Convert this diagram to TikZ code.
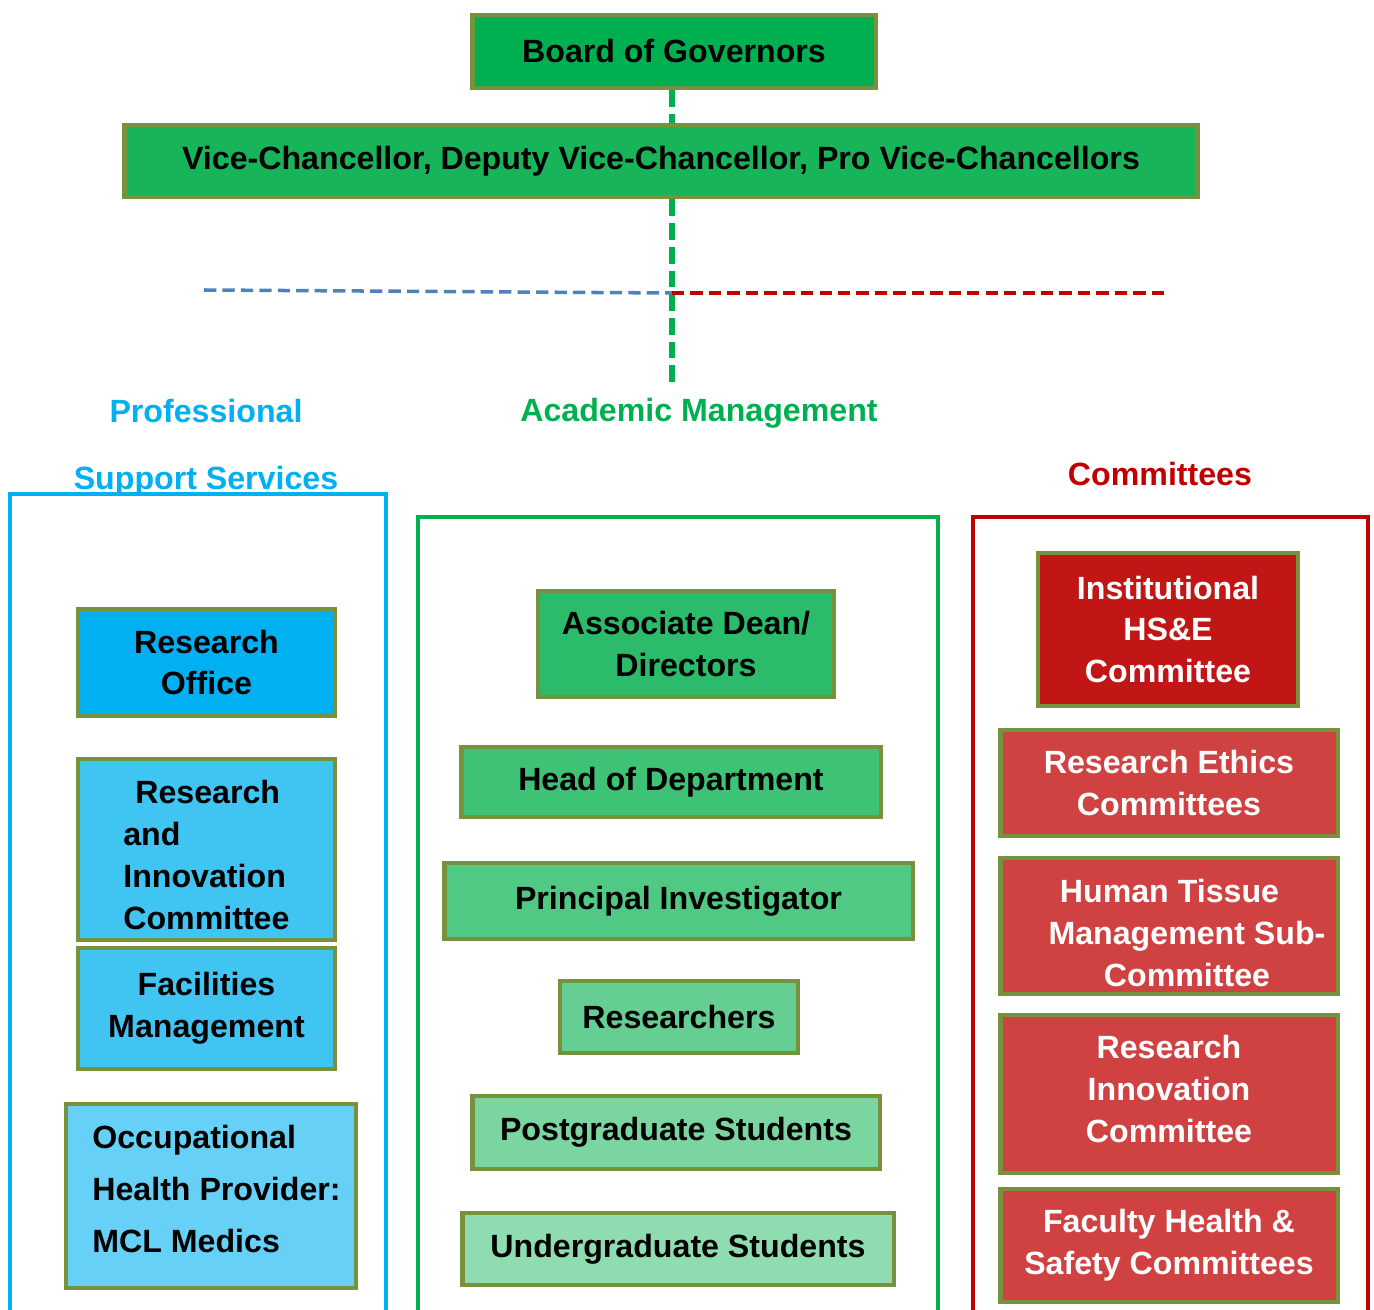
\documentclass[tikz,border=0pt]{standalone}
\usepackage{fontspec}
\setmainfont{Liberation Sans}
\definecolor{olive}{HTML}{76923C}
\definecolor{gBoard}{HTML}{00B050}
\definecolor{gVC}{HTML}{18B45A}
\definecolor{gAD}{HTML}{2BBB6B}
\definecolor{gHD}{HTML}{3DC276}
\definecolor{gPI}{HTML}{50C985}
\definecolor{gRS}{HTML}{65CF93}
\definecolor{gPG}{HTML}{7AD5A1}
\definecolor{gUG}{HTML}{8EDCB0}
\definecolor{bRO}{HTML}{00B0F0}
\definecolor{bRI}{HTML}{40C4F2}
\definecolor{bOH}{HTML}{66D0F6}
\definecolor{rIN}{HTML}{C21515}
\definecolor{rOT}{HTML}{D04242}
\definecolor{hBlue}{HTML}{00B0F0}
\definecolor{hGreen}{HTML}{00B050}
\definecolor{hRed}{HTML}{C00000}
\definecolor{dBlue}{HTML}{4F81BD}
\begin{document}
\begin{tikzpicture}[x=0.02cm,y=-0.02cm,
  box/.style={draw=olive, line width=2.8pt, rectangle, inner sep=0pt, align=center,
    font=\fontsize{18.3}{23.8}\selectfont\bfseries, text=black},
  wbox/.style={box, text=white},
  txt/.style={inner sep=0pt, font=\fontsize{18.3}{23.8}\selectfont\bfseries},
  head/.style={inner sep=0pt, font=\fontsize{18.3}{21}\selectfont\bfseries},
  outer/.style={rectangle, line width=2.2pt, inner sep=0pt},
  gdash/.style={draw=hGreen, line width=3pt, dash pattern=on 9.5pt off 4pt},
  bdash/.style={draw=dBlue, line width=2pt, dash pattern=on 7pt off 3.5pt},
  rdash/.style={draw=hRed, line width=2pt, dash pattern=on 7pt off 3.5pt}]
\useasboundingbox (0,0) rectangle (1374,1310);

% outer frames (bottom edges fall outside the page)
\node[outer, draw=hBlue, minimum width=7.52cm, minimum height=16.72cm] (pss) at (198,912) {};
\node[outer, draw=hGreen, minimum width=10.4cm, minimum height=16.26cm] (am) at (678,923.5) {};
\node[outer, draw=hRed, minimum width=7.9cm, minimum height=16.26cm] (cm) at (1170.5,923.5) {};

% headings
\node[head, text=hBlue] (hpro) at (206,411) {Professional};
\node[head, text=hBlue] (hsup) at (206,481) {Support Services};
\node[head, text=hGreen] (hacad) at (699,413) {Academic Management};
\node[head, text=hRed] (hcom) at (1160,474) {Committees};

% top boxes
\node[box, fill=gBoard, minimum width=8.08cm, minimum height=1.46cm] (board) at (674,51.5) {Board of Governors};
\node[box, fill=gVC, minimum width=21.48cm, minimum height=1.44cm] (vc) at (661,161) {Vice-Chancellor, Deputy Vice-Chancellor, Pro Vice-Chancellors};

% connectors
\coordinate (j) at (672,293);
\coordinate (amtop) at (672,388);
\coordinate (bl) at (204,290);
\coordinate (rr) at (1166,293);
\draw[gdash] (j |- board.south) -- (j |- vc.north);
\draw[gdash] (j |- vc.south) -- (amtop);
\draw[bdash] (bl) -- (j);
\draw[rdash] (j) -- (rr);

% professional support services
\node[box, fill=bRO, minimum width=5.14cm, minimum height=2.14cm] (ro) at (206.5,662.5) {Research\\Office};
\node[box, fill=bRI, minimum width=5.14cm, minimum height=3.62cm] (ri) at (206.5,849.5) {};
\node[txt, anchor=west, align=left] (ritxt) at (123,855) {\hspace*{0.24cm}Research\\and\\Innovation\\Committee};
\node[box, fill=bRI, minimum width=5.14cm, minimum height=2.42cm] (fm) at (206.5,1008.5) {Facilities\\Management};
\node[box, fill=bOH, minimum width=5.8cm, minimum height=3.68cm] (oh) at (211,1196) {};
\node[txt, anchor=west, align=left, font=\fontsize{18.3}{29.5}\selectfont\bfseries] (ohtxt) at (92,1189) {Occupational\\Health Provider:\\MCL Medics};

% academic management
\node[box, fill=gAD, minimum width=5.92cm, minimum height=2.12cm] (ad) at (686,644) {Associate Dean/\\Directors};
\node[box, fill=gHD, minimum width=8.4cm, minimum height=1.4cm] (hd) at (671,782) {Head of Department};
\node[box, fill=gPI, minimum width=9.38cm, minimum height=1.52cm] (pi) at (678.5,901) {Principal Investigator};
\node[box, fill=gRS, minimum width=4.76cm, minimum height=1.44cm] (rs) at (679,1017) {Researchers};
\node[box, fill=gPG, minimum width=8.16cm, minimum height=1.46cm] (pg) at (676,1132.5) {Postgraduate Students};
\node[box, fill=gUG, minimum width=8.64cm, minimum height=1.44cm] (ug) at (678,1249) {Undergraduate Students};

% committees
\node[wbox, fill=rIN, minimum width=5.2cm, minimum height=3.06cm] (ins) at (1168,629.5) {Institutional\\HS\&E\\Committee};
\node[wbox, fill=rOT, minimum width=6.76cm, minimum height=2.12cm] (re) at (1169,783) {Research Ethics\\Committees};
\node[wbox, fill=rOT, minimum width=6.76cm, minimum height=2.72cm] (ht) at (1169,926) {};
\node[txt, text=white, align=center] (httxt) at (1187,933) {\hspace*{-0.7cm}Human Tissue\\Management Sub-\\Committee};
\node[wbox, fill=rOT, minimum width=6.76cm, minimum height=3.16cm] (ric) at (1169,1094) {};
\node[txt, text=white, align=center] (rictxt) at (1169,1089) {Research\\Innovation\\Committee};
\node[wbox, fill=rOT, minimum width=6.76cm, minimum height=2.26cm] (fhs) at (1169,1245.5) {Faculty Health \&\\Safety Committees};
\end{tikzpicture}
\end{document}
